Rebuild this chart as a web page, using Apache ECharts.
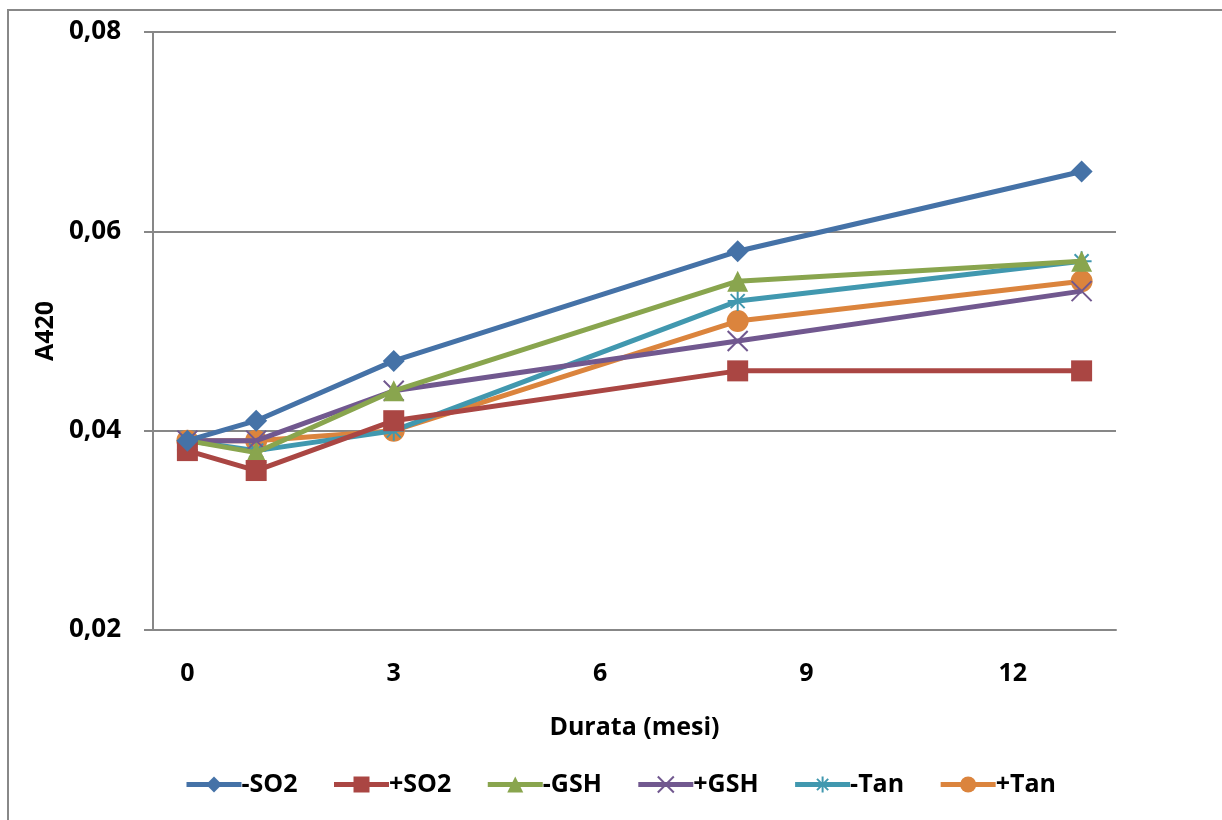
<!DOCTYPE html>
<html>
<head>
<meta charset="utf-8">
<script src="https://cdn.jsdelivr.net/npm/echarts@6/dist/echarts.min.js"></script>
<style>
  html, body { margin: 0; padding: 0; background: #fff; }
  #chart { width: 1222px; height: 820px; }
</style>
</head>
<body>
<div id="chart"></div>
<script>
// Storage time in months
const months = [0, 1, 3, 8, 13];
const xTicks = [0, 3, 6, 9, 12];

// Absorbance at 420 nm for each treatment
const minusSO2 = [0.039, 0.041, 0.047, 0.058, 0.066];
const plusSO2  = [0.038, 0.036, 0.041, 0.046, 0.046];
const minusGSH = [0.039, 0.0378, 0.044, 0.055, 0.057];
const plusGSH  = [0.039, 0.039, 0.044, 0.049, 0.054];
const minusTan = [0.039, 0.038, 0.040, 0.053, 0.057];
const plusTan  = [0.039, 0.039, 0.040, 0.051, 0.055];

const seriesNames = ['-SO2', '+SO2', '-GSH', '+GSH', '-Tan', '+Tan'];
const seriesValues = [minusSO2, plusSO2, minusGSH, plusGSH, minusTan, plusTan];

const colors = ['#4572A7', '#AA4643', '#89A54E', '#71588F', '#4198AF', '#DB843D'];
const starPath = 'path://M0,-10L0,10M-10,0L10,0M-7,-7L7,7M-7,7L7,-7';
const xPath = 'path://M-10,-10L10,10M-10,10L10,-10';
const symbols = ['diamond', 'rect', 'triangle', xPath, starPath, 'circle'];
const symbolSizes = [22, 21, 21, 20, 20, 22];

const FONT = '"Open Sans", "Noto Sans", sans-serif';

const series = seriesNames.map((name, i) => {
  const isStroke = i === 3 || i === 4;
  return {
    name: name,
    type: 'line',
    data: months.map((m, j) => [m, seriesValues[i][j]]),
    symbol: symbols[i],
    symbolSize: symbolSizes[i],
    showAllSymbol: true,
    lineStyle: { color: colors[i], width: 5 },
    itemStyle: isStroke
      ? { color: colors[i], borderColor: colors[i], borderWidth: 2 }
      : { color: colors[i], borderWidth: 0 },
    emphasis: { disabled: true },
    z: 10 - i
  };
});

const chart = echarts.init(document.getElementById('chart'), null, { renderer: 'canvas' });
chart.setOption({
  animation: false,
  color: colors,
  graphic: [{
    type: 'rect',
    shape: { x: 8, y: 10, width: 1240, height: 840 },
    style: { fill: 'none', stroke: '#888888', lineWidth: 2 },
    z: -10
  }],
  grid: { left: 153, right: 106, top: 32, bottom: 190, containLabel: false },
  xAxis: {
    type: 'value',
    min: -0.5,
    max: 13.5,
    name: 'Durata (mesi)',
    nameLocation: 'middle',
    nameGap: 85,
    nameTextStyle: { fontFamily: FONT, fontWeight: 'bold', fontSize: 25, color: '#000' },
    axisLine: { show: true, onZero: false, lineStyle: { color: '#878787', width: 2 } },
    axisTick: { show: false },
    splitLine: { show: false },
    axisLabel: {
      customValues: xTicks,
      margin: 31,
      fontFamily: FONT, fontWeight: 'bold', fontSize: 25, color: '#000'
    }
  },
  yAxis: {
    type: 'value',
    min: 0.02,
    max: 0.08,
    interval: 0.02,
    name: 'A420',
    nameLocation: 'middle',
    nameGap: 94,
    nameRotate: 90,
    nameTextStyle: { fontFamily: FONT, fontWeight: 'bold', fontSize: 25, color: '#000' },
    axisLine: { show: true, onZero: false, lineStyle: { color: '#878787', width: 2 } },
    axisTick: { show: true, inside: false, length: 9, lineStyle: { color: '#878787', width: 2 } },
    splitLine: { show: true, lineStyle: { color: '#878787', width: 2 } },
    axisLabel: {
      margin: 32,
      formatter: v => v.toFixed(2).replace('.', ','),
      fontFamily: FONT, fontWeight: 'bold', fontSize: 26, color: '#000'
    }
  },
  legend: {
    bottom: 18,
    left: 179,
    itemWidth: 55,
    itemHeight: 20,
    itemGap: 34,
    lineStyle: { width: 5 },
    textStyle: { fontFamily: FONT, fontWeight: 'bold', fontSize: 25, color: '#000', padding: [0, 0, 0, -5] },
    data: seriesNames
  },
  series: series
});
</script>
</body>
</html>
